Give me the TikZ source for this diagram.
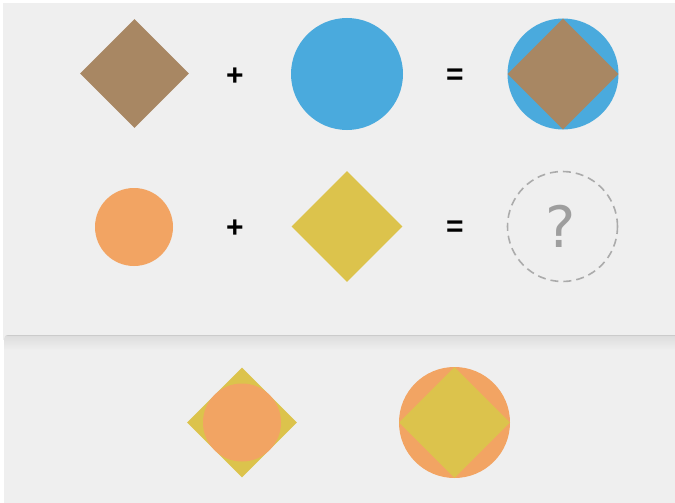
\documentclass[tikz,border=0pt]{standalone}
\usepackage{fontspec}
\setsansfont{Liberation Sans}
\newfontfamily\qfont{DejaVu Sans}
\usetikzlibrary{shapes.geometric}
\definecolor{panel}{HTML}{EFEFEF}
\definecolor{shadowgray}{HTML}{DCDCDC}
\definecolor{edgegray}{HTML}{CBCBCB}
\definecolor{brownish}{HTML}{A88763}
\definecolor{bluish}{HTML}{4AAADD}
\definecolor{orangeish}{HTML}{F2A463}
\definecolor{yellowish}{HTML}{DCC34C}
\definecolor{dashgray}{HTML}{ABABAB}
\definecolor{qgray}{HTML}{9E9E9E}

\begin{document}
\begin{tikzpicture}[x=1pt, y=-1pt,
  dia/.style={diamond, aspect=1, inner sep=0pt, minimum width=#1, minimum height=#1},
  disc/.style={circle, inner sep=0pt, minimum size=#1},
  op/.style={font=\sffamily\bfseries\fontsize{30}{30}\selectfont, text=black, inner sep=0pt}]
\useasboundingbox (0,0) rectangle (675,503);
\fill[white] (0,0) rectangle (675,503);
% panels
\fill[panel] (3,3) rectangle (675,340);
\begin{scope}
\clip (4,503) -- (4,344) .. controls (4,335) .. (13,335) -- (675,335) -- (675,503) -- cycle;
\fill[panel] (0,330) rectangle (675,503);
\shade[top color=shadowgray, bottom color=panel] (0,335) rectangle (675,350);
\fill[edgegray] (0,335) rectangle (675,336.3);
\end{scope}
% first row
\node[dia=109pt, fill=brownish] (d1) at (134.5,73.5) {};
\node[op] (plus1) at (235,77) {+};
\node[disc=112pt, fill=bluish] (c1) at (347,74) {};
\node[op] (eq1) at (455,77) {=};
\node[disc=111pt, fill=bluish] (c2) at (563,74) {};
\node[dia=111pt, fill=brownish] (d2) at (c2) {};
% second row
\node[disc=78pt, fill=orangeish] (c3) at (134,227) {};
\node[op] (plus2) at (235,229) {+};
\node[dia=111pt, fill=yellowish] (d3) at (347,226.5) {};
\node[op] (eq2) at (455,229) {=};
\node[disc=110pt, draw=dashgray, line width=1.6pt, dash pattern=on 8pt off 5pt] (q) at (562.5,226.5) {};
\node[font=\qfont\fontsize{57}{57}\selectfont, text=qgray, inner sep=0pt] (qm) at (561,226.5) {?};
% answers
\node[dia=110pt, fill=yellowish] (d4) at (242,422.5) {};
\node[disc=78pt, fill=orangeish] (c4) at (d4) {};
\node[disc=111pt, fill=orangeish] (c5) at (454.5,422.5) {};
\node[dia=111pt, fill=yellowish] (d5) at (c5) {};
\end{tikzpicture}
\end{document}
